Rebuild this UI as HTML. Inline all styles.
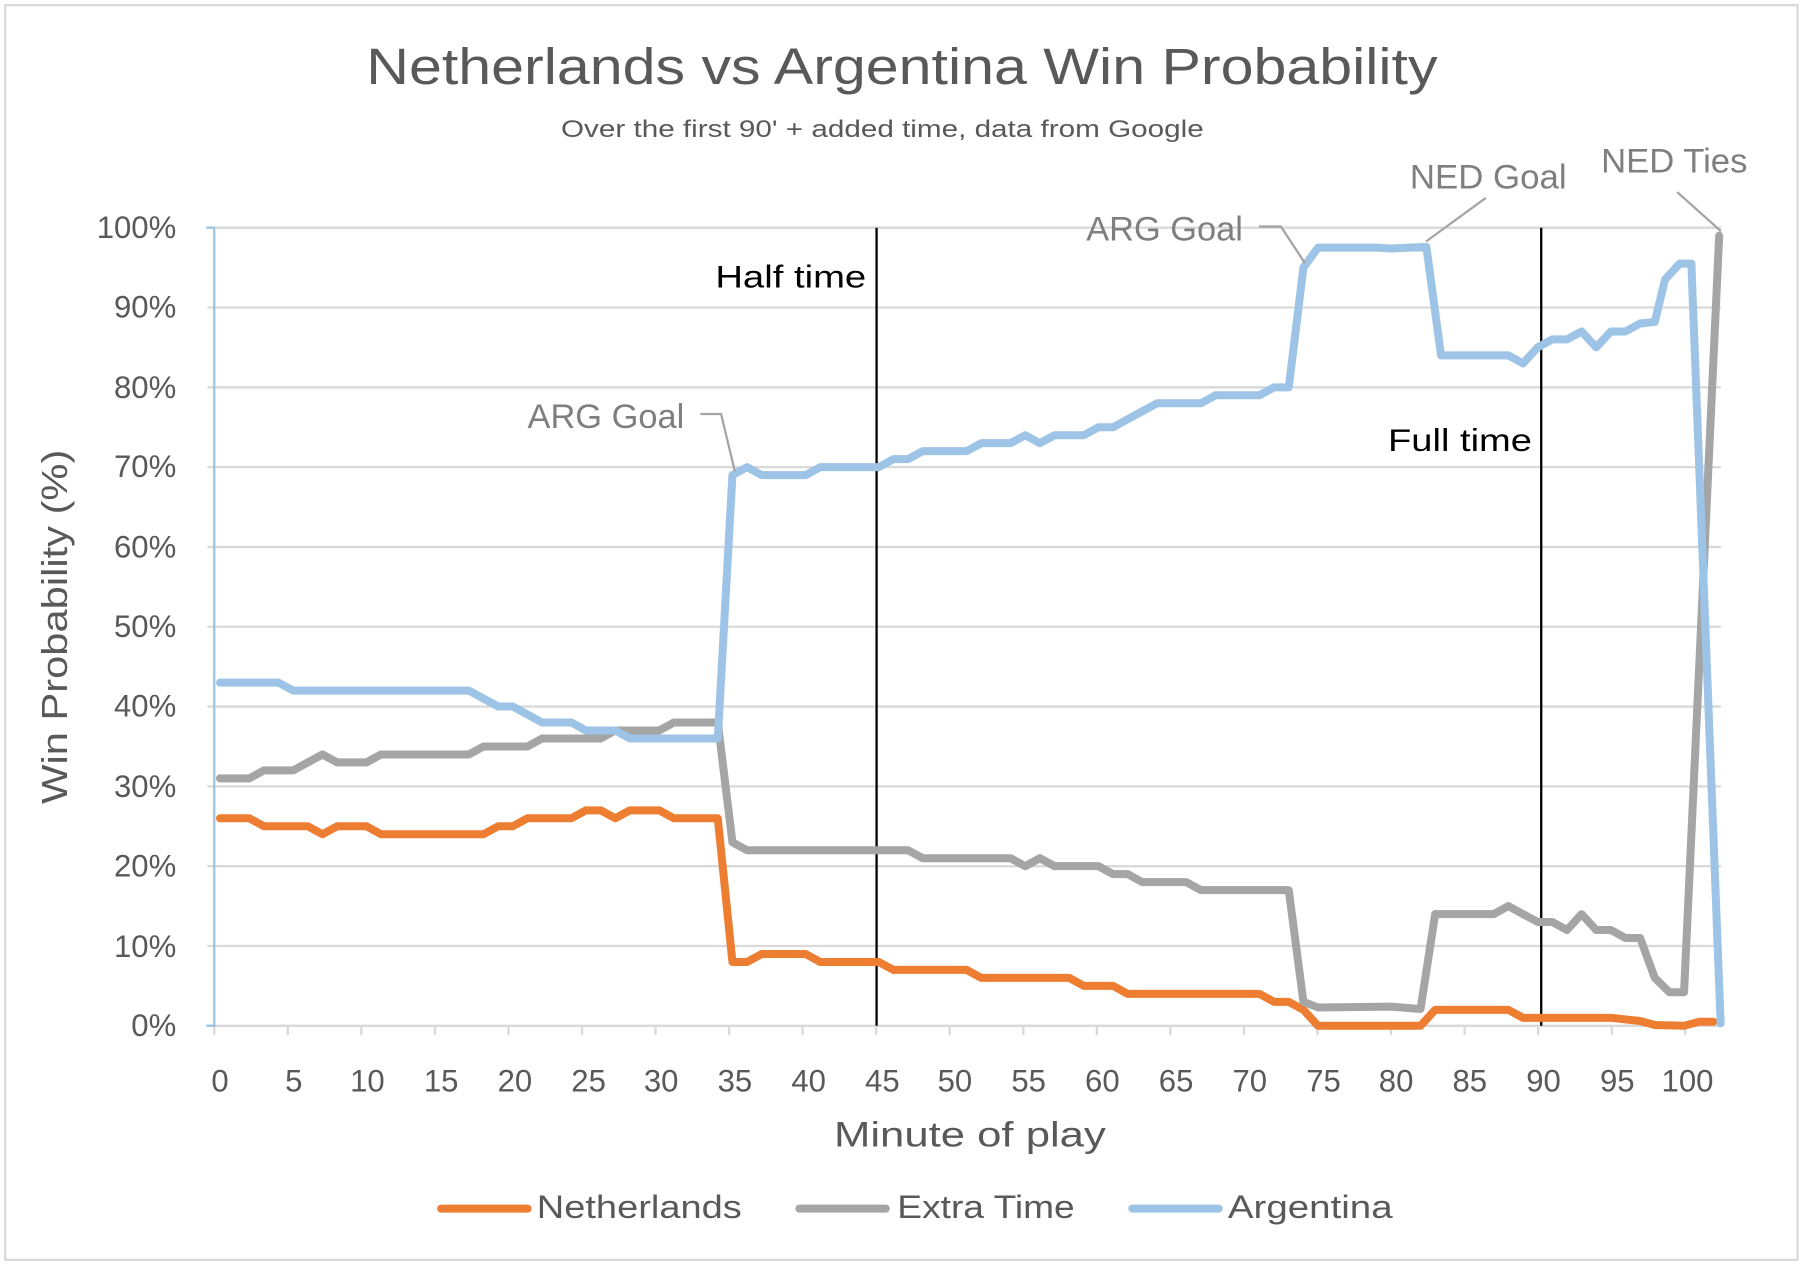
<!DOCTYPE html>
<html><head><meta charset="utf-8"><style>
html,body{margin:0;padding:0;background:#fff;}
svg{display:block;}
text{font-family:"Liberation Sans",sans-serif;}
</style></head><body>
<svg width="1805" height="1265" viewBox="0 0 1567 1100" preserveAspectRatio="none" xmlns="http://www.w3.org/2000/svg">
<rect x="0" y="0" width="1567" height="1100" fill="#fff"/>
<rect x="4.5" y="4.5" width="1556" height="1091" fill="none" stroke="#d9d9d9" stroke-width="2"/>
<text x="783" y="73" text-anchor="middle" font-size="44" fill="#595959" textLength="930" lengthAdjust="spacingAndGlyphs">Netherlands vs Argentina Win Probability</text>
<text x="766" y="119" text-anchor="middle" font-size="21" fill="#595959" textLength="558" lengthAdjust="spacingAndGlyphs">Over the first 90' + added time, data from Google</text>
<g stroke="#d9d9d9" stroke-width="2">
<line x1="180" x2="1494" y1="198" y2="198"/><line x1="180" x2="1494" y1="267.4" y2="267.4"/><line x1="180" x2="1494" y1="336.8" y2="336.8"/><line x1="180" x2="1494" y1="406.2" y2="406.2"/><line x1="180" x2="1494" y1="475.6" y2="475.6"/><line x1="180" x2="1494" y1="545" y2="545"/><line x1="180" x2="1494" y1="614.4" y2="614.4"/><line x1="180" x2="1494" y1="683.8" y2="683.8"/><line x1="180" x2="1494" y1="753.2" y2="753.2"/><line x1="180" x2="1494" y1="822.6" y2="822.6"/><line x1="180" x2="1494" y1="892" y2="892"/>
<line x1="186" x2="186" y1="892" y2="900"/><line x1="249.9" x2="249.9" y1="892" y2="900"/><line x1="313.7" x2="313.7" y1="892" y2="900"/><line x1="377.6" x2="377.6" y1="892" y2="900"/><line x1="441.4" x2="441.4" y1="892" y2="900"/><line x1="505.3" x2="505.3" y1="892" y2="900"/><line x1="569.1" x2="569.1" y1="892" y2="900"/><line x1="633" x2="633" y1="892" y2="900"/><line x1="696.8" x2="696.8" y1="892" y2="900"/><line x1="760.7" x2="760.7" y1="892" y2="900"/><line x1="824.5" x2="824.5" y1="892" y2="900"/><line x1="888.4" x2="888.4" y1="892" y2="900"/><line x1="952.2" x2="952.2" y1="892" y2="900"/><line x1="1016.1" x2="1016.1" y1="892" y2="900"/><line x1="1079.9" x2="1079.9" y1="892" y2="900"/><line x1="1143.8" x2="1143.8" y1="892" y2="900"/><line x1="1207.6" x2="1207.6" y1="892" y2="900"/><line x1="1271.5" x2="1271.5" y1="892" y2="900"/><line x1="1335.3" x2="1335.3" y1="892" y2="900"/><line x1="1399.2" x2="1399.2" y1="892" y2="900"/><line x1="1463" x2="1463" y1="892" y2="900"/>
</g>
<line x1="186" x2="186" y1="197" y2="893" stroke="#9dc3e6" stroke-width="2"/>
<g stroke="#9dc3e6" stroke-width="2"><line x1="179" x2="186" y1="198" y2="198"/><line x1="179" x2="186" y1="892" y2="892"/></g>
<g font-size="27" fill="#595959" text-anchor="end">
<text x="153" y="207">100%</text><text x="153" y="276">90%</text><text x="153" y="346">80%</text><text x="153" y="415">70%</text><text x="153" y="485">60%</text><text x="153" y="554">50%</text><text x="153" y="623">40%</text><text x="153" y="693">30%</text><text x="153" y="762">20%</text><text x="153" y="832">10%</text><text x="153" y="901">0%</text>
</g>
<g font-size="27" fill="#595959" text-anchor="middle">
<text x="191" y="949">0</text><text x="255" y="949">5</text><text x="319" y="949">10</text><text x="383" y="949">15</text><text x="447" y="949">20</text><text x="511" y="949">25</text><text x="574" y="949">30</text><text x="638" y="949">35</text><text x="702" y="949">40</text><text x="766" y="949">45</text><text x="829" y="949">50</text><text x="893" y="949">55</text><text x="957" y="949">60</text><text x="1021" y="949">65</text><text x="1085" y="949">70</text><text x="1149" y="949">75</text><text x="1212" y="949">80</text><text x="1276" y="949">85</text><text x="1340" y="949">90</text><text x="1404" y="949">95</text><text x="1465" y="949">100</text>
</g>
<text x="842" y="997" text-anchor="middle" font-size="31" fill="#595959" textLength="236" lengthAdjust="spacingAndGlyphs">Minute of play</text>
<text transform="translate(58,545) rotate(-90)" text-anchor="middle" font-size="31" fill="#595959" textLength="308" lengthAdjust="spacingAndGlyphs">Win Probability (%)</text>
<line x1="761" x2="761" y1="198" y2="892" stroke="#000" stroke-width="2"/>
<line x1="1338" x2="1338" y1="198" y2="892" stroke="#000" stroke-width="2"/>
<text x="621" y="250" font-size="27" fill="#000" textLength="131" lengthAdjust="spacingAndGlyphs">Half time</text>
<text x="1205" y="392" font-size="27" fill="#000" textLength="125" lengthAdjust="spacingAndGlyphs">Full time</text>
<g transform="translate(191,892) scale(12.71,-6.94)" fill="none" stroke-width="8" stroke-linejoin="round" stroke-linecap="round">
<polyline vector-effect="non-scaling-stroke" stroke="#ed7d31" points="0,26 2,26 3,25 6,25 7,24 8,25 10,25 11,24 18,24 19,25 20,25 21,26 24,26 25,27 26,27 27,26 28,27 30,27 31,26 34,26 35,8 36,8 37,9 40,9 41,8 45,8 46,7 51,7 52,6 58,6 59,5 61,5 62,4 71,4 72,3 73,3 74,2 75,0 82,0 83,2 88,2 89,1 95,1 97,0.6 98,0.1 100,0 101,0.5 102,0.5"/>
<polyline vector-effect="non-scaling-stroke" stroke="#a5a5a5" points="0,31 2,31 3,32 5,32 7,34 8,33 10,33 11,34 17,34 18,35 21,35 22,36 26,36 27,37 30,37 31,38 34,38 35,23 36,22 45,22 47,22 48,21 54,21 55,20 56,21 57,20 60,20 61,19 62,19 63,18 66,18 67,17 73,17 74,3 75,2.3 80,2.4 82,2.1 83,14 87,14 88,15 90,13 91,13 92,12 93,14 94,12 95,12 96,11 97,11 98,6 99,4.2 100,4.2 102.4,99"/>
<polyline vector-effect="non-scaling-stroke" stroke="#9dc3e6" points="0,43 4,43 5,42 17,42 19,40 20,40 22,38 24,38 25,37 27,37 28,36 34,36 35,69 36,70 37,69 40,69 41,70 45,70 46,71 47,71 48,72 51,72 52,73 54,73 55,74 56,73 57,74 59,74 60,75 61,75 64,78 67,78 68,79 71,79 72,80 73,80 74,95 75,97.5 79,97.5 80,97.4 82.4,97.6 83.4,84 88,84 89,83 90,85 91,86 92,86 93,87 94,85 95,87 96,87 97,88 98,88.2 98.7,93.5 99.7,95.5 100.5,95.5 102.5,0.3"/>
</g>
<g stroke="#a5a5a5" stroke-width="2" fill="none">
<polyline points="608,360 626,360 638,410"/>
<polyline points="1093,197 1112,197 1133,229"/>
<polyline points="1290,172 1238,210"/>
<polyline points="1456,167 1494,201"/>
</g>
<g font-size="30" fill="#7f7f7f">
<text x="458" y="372" textLength="136" lengthAdjust="spacingAndGlyphs">ARG Goal</text>
<text x="943" y="209" textLength="136" lengthAdjust="spacingAndGlyphs">ARG Goal</text>
<text x="1224" y="164" textLength="136" lengthAdjust="spacingAndGlyphs">NED Goal</text>
<text x="1390" y="150" textLength="127" lengthAdjust="spacingAndGlyphs">NED Ties</text>
</g>
<g stroke-width="7" stroke-linecap="round">
<line x1="383" x2="458" y1="1051" y2="1051" stroke="#ed7d31"/>
<line x1="694" x2="769" y1="1051" y2="1051" stroke="#a5a5a5"/>
<line x1="983" x2="1058" y1="1051" y2="1051" stroke="#9dc3e6"/>
</g>
<g font-size="28" fill="#595959">
<text x="466" y="1059" textLength="178" lengthAdjust="spacingAndGlyphs">Netherlands</text>
<text x="779" y="1059" textLength="154" lengthAdjust="spacingAndGlyphs">Extra Time</text>
<text x="1066" y="1059" textLength="143" lengthAdjust="spacingAndGlyphs">Argentina</text>
</g>
</svg>
</body></html>
